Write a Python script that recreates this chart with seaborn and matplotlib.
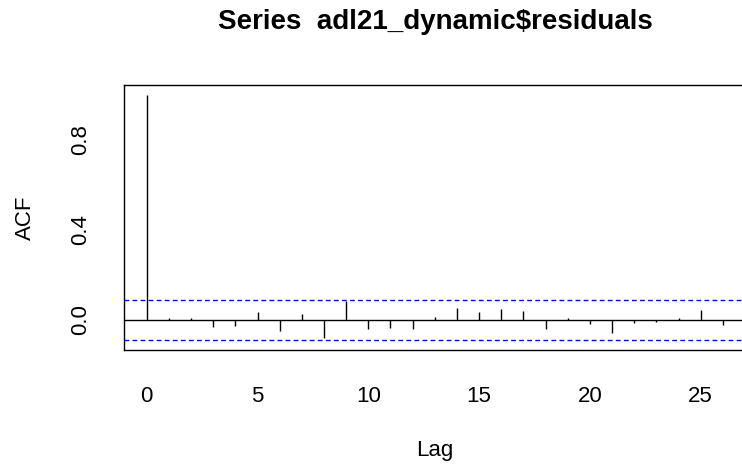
import numpy as np
import matplotlib
matplotlib.use("Agg")
import matplotlib.pyplot as plt
import seaborn as sns

# ACF of residuals
lags = list(range(0, 27))
acf_values = [1.0, 0.009, 0.009, -0.030, -0.027, 0.034, -0.050, 0.027, -0.081,
              0.083, -0.041, -0.036, -0.041, 0.012, 0.052, 0.033, 0.049, 0.039,
              -0.041, 0.010, -0.019, -0.056, -0.012, -0.009, 0.010, 0.043, -0.022]
conf_bound = 0.089
x_ticks = [0, 5, 10, 15, 20, 25]
y_ticks = [0.0, 0.2, 0.4, 0.6, 0.8, 1.0]
y_tick_labels = ["0.0", "", "0.4", "", "0.8", ""]

sns.set_theme(style="white")
plt.rcParams['font.family'] = ['Liberation Sans', 'DejaVu Sans']

fig = plt.figure(figsize=(7.42, 4.65), dpi=100)
ax = fig.add_axes([123.7 / 742, 115 / 465, (745.9 - 123.7) / 742, 265 / 465])

ax.vlines(lags, 0, acf_values, color="black", linewidth=1.0)
ax.axhline(0, color="black", linewidth=1.0)
for b in (conf_bound, -conf_bound):
    ax.axhline(b, color="#0000FF", linewidth=1.0, dashes=(3.4, 2.4))

ax.set_xlim(-1.04, 27.04)
ax.set_ylim(-0.1336, 1.0436)
ax.set_xticks(x_ticks)
ax.set_yticks(y_ticks)
ax.set_yticklabels(y_tick_labels, rotation=90, va="center")

for s in ax.spines.values():
    s.set_color("black")
    s.set_linewidth(1.0)
ax.tick_params(axis="both", which="both", direction="out", length=10.8, width=1.0,
               color="black", labelsize=16, labelcolor="black")
ax.tick_params(axis="x", pad=15)
ax.tick_params(axis="y", pad=13)

ax.set_xlabel("Lag", fontsize=16, labelpad=24, color="black")
ax.set_ylabel("ACF", fontsize=16, labelpad=24, color="black")
ax.set_title("Series  adl21_dynamic\\$residuals", fontsize=20, fontweight="bold",
             color="black", pad=40, x=(435 - 123.7) / (745.9 - 123.7))

fig.savefig("out.png", dpi=100)
